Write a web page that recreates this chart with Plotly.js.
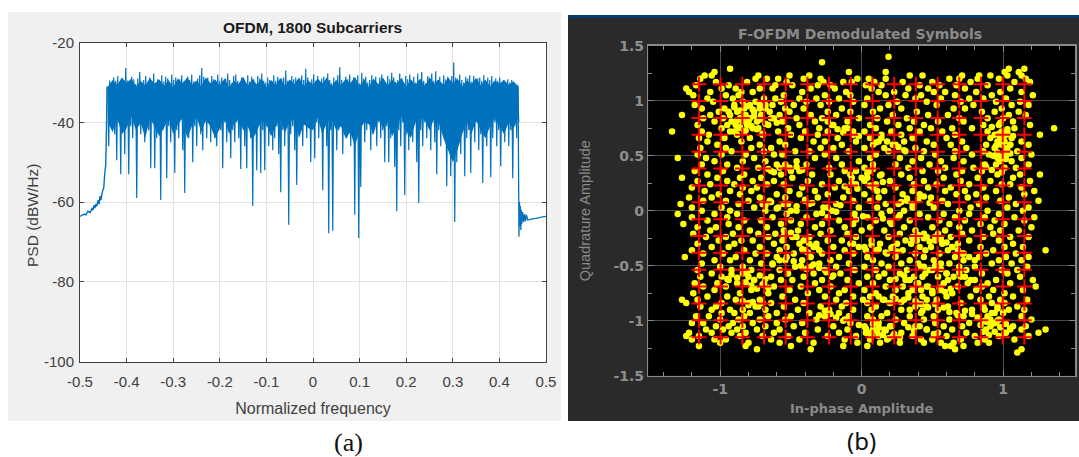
<!DOCTYPE html>
<html><head><meta charset="utf-8">
<script src="https://cdn.plot.ly/plotly-3.0.1.min.js"></script>
<style>html,body{margin:0;padding:0;background:#fff}#chart{width:1079px;height:457px}</style>
</head><body><div id="chart"></div>
<script>
// (a) PSD: skirts read as explicit points, band read as alternating upper / lower excursions
const leftSkirtFreq=[-0.5,-0.496,-0.491,-0.487,-0.483,-0.478,-0.474,-0.472,-0.47,-0.468,-0.466,-0.464,-0.461,-0.459,-0.457,-0.455,-0.453,-0.451,-0.449,-0.447,-0.445,-0.444,-0.443,-0.442];
const leftSkirtPsd=[-63.6,-63.3,-63,-63.2,-62.3,-62.6,-61.5,-62,-60.8,-61.5,-60.5,-61,-59.5,-60.5,-58.5,-59.5,-58,-57,-56.5,-53,-51,-47,-40,-31];
const rightSkirtFreq=[0.44,0.441,0.442,0.443,0.444,0.445,0.446,0.447,0.448,0.45,0.452,0.454,0.456,0.458,0.461,0.465,0.47,0.478,0.486,0.493,0.5];
const rightSkirtPsd=[-31,-50,-68.7,-60,-66,-61,-67,-62,-65.5,-62.5,-65,-63,-64.8,-63.2,-64.5,-64.4,-64.2,-64.1,-63.9,-63.7,-63.6];
const bodyFreq=[-0.44,-0.43,-0.42,-0.41,-0.4,-0.39,-0.38,-0.37,-0.36,-0.35,-0.34,-0.33,-0.32,-0.31,-0.3,-0.29,-0.28,-0.27,-0.26,-0.25,-0.24,-0.23,-0.22,-0.21,-0.2,-0.19,-0.18,-0.17,-0.16,-0.15,-0.14,-0.13,-0.12,-0.11,-0.1,-0.09,-0.08,-0.07,-0.06,-0.05,-0.04,-0.03,-0.02,-0.01,0,0.01,0.02,0.03,0.04,0.05,0.06,0.07,0.08,0.09,0.1,0.11,0.12,0.13,0.14,0.15,0.16,0.17,0.18,0.19,0.2,0.21,0.22,0.23,0.24,0.25,0.26,0.27,0.28,0.29,0.3,0.31,0.32,0.33,0.34,0.35,0.36,0.37,0.38,0.39,0.4,0.41,0.42,0.43,0.44];
const bodyTop=[-31,-29.4,-30.6,-28.8,-30.2,-29,-31,-29.6,-30.8,-28.9,-30.4,-29.2,-30.9,-29.4,-31.2,-29,-30.3,-28.7,-30.6,-29.5,-31,-28.8,-30.2,-29.3,-30.8,-29,-31.3,-29.6,-30.4,-28.6,-30.8,-29.2,-30.5,-29,-31.2,-29.4,-30.6,-28.9,-30.9,-29.3,-30.4,-28.8,-31.1,-29.5,-30.6,-29,-30.3,-28.7,-31,-29.4,-30.8,-29.1,-30.2,-28.6,-30.9,-29.3,-31.2,-29,-30.5,-28.8,-30.7,-29.4,-30.2,-28.9,-31,-29.2,-30.6,-29,-30.9,-28.7,-30.4,-29.3,-30.8,-28.8,-30.2,-29,-31,-29.5,-30.4,-28.9,-30.7,-29.3,-31,-29.6,-30.3,-29.4,-30.6,-29.8,-31.2];
const bodyBottom=[-40,-42.5,-39,-43,-41.5,-38.5,-42,-40,-44,-39,-41,-43.5,-41.5,-38.8,-43,-40.5,-39,-44,-41,-38.5,-42.5,-39.5,-41,-44,-41.5,-39,-43,-40.5,-39,-42,-41,-44.5,-42,-39.5,-40.5,-43.5,-41,-39,-42.5,-40,-39,-44,-40.5,-41.5,-42,-38.8,-43,-40,-39.5,-42,-41,-44,-42.5,-46,-42,-40,-40.5,-43,-39,-41.5,-40,-43.5,-41,-38.5,-42,-44,-40,-39,-39.5,-42,-39,-40,-44,-47,-50,-47,-43,-40,-43,-39.5,-42,-44,-41,-39,-41,-43,-40,-41.5,-39];
const bandStart=-0.4405, bandStep=0.002146;
const psdUpper=[-31,-29.5,-30,-28.8,-29.6,-28.4,-30,-29,-29.4,-26.4,-29.5,-30,-28.6,-29.2,-30.4,-29,-27.4,-30,-29.4,-28.4,
-30.2,-28.8,-29.6,-27.8,-30,-29.2,-30.6,-28.2,-29.8,-28.6,-29,-30.2,-28,-29.4,-28.8,-30.4,-29.2,-28.2,-29.8,-30,
-28.6,-29.4,-28,-29.8,-30.4,-29,-28.2,-26.4,-28.6,-29.6,-28.8,-30,-28.4,-29.2,-30.2,-28,-29.6,-28.8,-30,-29,
-27.8,-29.4,-30.2,-28.4,-28,-29.6,-30,-28.8,-29.2,-30.4,-28.2,-29.8,-28.6,-29.2,-30.4,-28.4,-29,-27.8,-29.6,-30,
-28.8,-29.4,-30,-28.2,-29.6,-28.6,-30.2,-29,-28.8,-27,-29.6,-30,-28.4,-29.2,-28.8,-30.4,-29,-28.2,-29.4,-26.6,
-28.8,-30,-29.2,-28,-29.6,-28.4,-30.2,-29,-28.6,-30,-27.8,-29.4,-30.2,-28.8,-29.6,-28.2,-26.2,-29.4,-30.4,-28.6,
-29.2,-28,-30,-28.8,-29.4,-28.2,-30.2,-27.6,-29,-28.6,-30,-29.4,-28.2,-29.8,-28.6,-30.2,-28.8,-28,-29.6,-30,
-28.4,-29.2,-27.6,-28.8,-30,-29.4,-27.8,-29,-30.2,-28.4,-29.2,-28,-29.8,-28.6,-30,-27.8,-29.4,-27.4,-29.6,-30.2,
-28.4,-29,-27.8,-29.6,-27.2,-29.4,-28.6,-30,-28.2,-29.2,-28.6,-30.2,-28.4,-25,-28.8,-29.6,-28,-29.4,-30,-28.6,
-29,-28.2,-29.8,-28.4,-30,-29,-28.8,-29.6,-28.2,-30,-28.8,-29.4,-28.4,-29.8,-29,-29.6,-28.8,-30,-29.4,-30.4,
-29.2,-30,-29.4,-29.8,-30.2,-30.6];
const psdLower=[-46,-41,-39,-43,-49.5,-40,-53,-42,-48,-40,
-53,-41,-44,-39,-59,-41,-43,-40,-45,-39,
-42,-51.5,-40,-51.5,-44,-39,-59.5,-42,-40,-54,
-41,-45,-39,-52.7,-42,-44,-39,-47,-57.7,-41,
-44,-39,-50,-41,-46,-39,-43,-47,-40,-44,
-39,-45,-41,-44,-46,-39,-42,-51.5,-40,-45,
-39,-49,-42,-45,-40,-44,-51.7,-41,-46,-51.5,
-41,-44,-61,-43,-52,-40,-52.7,-42,-52,-41,
-46,-42,-47,-44,-41,-48,-57.5,-42,-46,-40,
-65.7,-43,-41,-47,-55.7,-42,-40,-46,-39,-44,
-41,-50,-38,-49,-40,-44,-39,-57,-41,-46,
-67.8,-42,-67.2,-40,-47,-42,-39,-48,-41,-44,
-40,-46,-42,-63.2,-41,-69,-56.2,-40,-45,-42,
-40,-47,-43,-41,-46,-40,-44,-42,-50,-41,
-50,-44,-41,-51.2,-62.3,-42,-46,-40,-58.2,-43,
-47,-41,-45,-40,-50,-60.2,-42,-46,-40,-44,
-41,-47,-40,-45,-53,-42,-46,-41,-44,-56,
-46,-53.5,-49,-65,-50,-44,-48,-41,-53.5,-44,
-42,-52.7,-41,-45,-40,-47,-43,-55.2,-42,-46,
-41,-53.8,-44,-40,-46,-42,-51,-41,-45,-40,
-46,-42,-54,-41,-44,-40];
const psdTickVals=[-0.5,-0.4,-0.3,-0.2,-0.1,0,0.1,0.2,0.3,0.4,0.5];
const psdTickText=["-0.5","-0.4","-0.3","-0.2","-0.1","0","0.1","0.2","0.3","0.4","0.5"];
const psdYTickVals=[-100,-80,-60,-40,-20];
const psdYTickText=["-100","-80","-60","-40","-20"];

// (b) constellation
const refLevels=[-1.15,-0.997,-0.843,-0.69,-0.537,-0.383,-0.23,-0.077,0.077,0.23,0.383,0.537,0.69,0.843,0.997,1.15];
const yellowQLevels=[1.40,1.35,1.29,1.26,1.23,1.20,1.17,1.14,1.11,1.08,1.05,1.02,0.99,0.96,0.93,0.90,0.87,0.84,0.81,0.78,0.75,0.72,0.69,0.66,0.63,0.60,0.57,0.54,0.51,0.48,0.45,0.42,0.39,0.36,0.33,0.30,0.27,0.24,0.21,0.18,0.15,0.12,0.09,0.06,0.03,0,-0.03,-0.06,-0.09,-0.12,-0.15,-0.18,-0.21,-0.24,-0.27,-0.30,-0.33,-0.36,-0.39,-0.42,-0.45,-0.48,-0.51,-0.54,-0.57,-0.60,-0.63,-0.66,-0.69,-0.72,-0.75,-0.78,-0.81,-0.84,-0.87,-0.90,-0.93,-0.96,-0.99,-1.02,-1.05,-1.08,-1.11,-1.14,-1.17,-1.20,-1.23,-1.26,-1.29,-1.32];
const yellowIByLevel=[
[0.19],[-0.28],[-0.93,1.04,1.15],
[-1.04,-0.09,1.01,1.11,0.17],
[-1.06,-1.11,-0.73,-0.51,-0.37,0.34,0.43,0.71,0.83,0.91,1.03,1.13],
[-1.14,-0.75,-0.67,-0.59,-0.41,-0.29,-0.03,0.05,0.17,0.62,0.69,0.82,0.97,1.16],
[-1.03,-0.81,-0.53,-0.27,-0.13,-0.07,0.09,0.29,0.5,0.77,1.08,1.19],
[-1.17,-0.94,-0.61,-0.49,-0.31,-0.22,0.03,0.14,0.41,0.55,0.67,0.89],
[-1.24,-0.99,-0.89,-0.72,-0.63,-0.36,-0.19,0.07,0.33,0.47,0.73,1.05],
[-1.22,-1.07,-0.85,-0.77,-0.42,-0.11,0.12,0.23,0.51,0.59,0.81,0.98,1.13],
[-1.19,-0.96,-0.87,-0.55,-0.26,-0.08,0.17,0.31,0.42,0.66,0.92,1.21],
[-1.09,-0.91,-0.69,-0.61,-0.44,-0.32,-0.16,0.04,0.38,0.56,0.76,0.86,1.02],
[-1.05,-0.84,-0.75,-0.57,-0.39,-0.23,-0.06,0.25,0.46,0.7,0.95,1.12],
[-1.18,-0.9,-0.79,-0.68,-0.63,-0.48,-0.29,0.02,0.19,0.53,0.79,1.06,1.18],
[-1.13,-0.97,-0.83,-0.72,-0.54,-0.41,-0.14,0.13,0.28,0.65,0.73,0.99],
[-1.01,-0.88,-0.76,-0.65,-0.51,-0.24,-0.08,0.08,0.39,0.85,0.94,1.11],
[-1.27,-1.07,-0.93,-0.82,-0.71,-0.58,-0.36,-0.18,0.22,0.47,0.61,1.04,1.16],
[-1.12,-0.98,-0.86,-0.79,-0.62,-0.46,-0.28,-0.02,0.11,0.32,0.69,0.89,1.0],
[-1.04,-0.92,-0.84,-0.74,-0.56,-0.33,-0.1,0.18,0.37,0.54,0.72,1.07],
[-1.16,-0.95,-0.89,-0.81,-0.66,-0.44,-0.21,0.06,0.26,0.44,0.86,0.97,1.19],
[-0.99,-0.87,-0.77,-0.73,-0.52,-0.3,-0.12,0.1,0.34,0.49,0.64,0.78,1.08,1.36],
[-1.34,-1.13,-0.93,-0.83,-0.59,-0.4,-0.24,0.02,0.21,0.41,0.57,0.89,0.99],
[-1.08,-0.88,-0.7,-0.5,-0.31,-0.06,0.14,0.28,0.66,0.94,1.02,1.26],
[-1.15,-0.97,-0.79,-0.43,-0.17,0.06,0.36,0.6,0.91,0.98,1.06],
[-1.09,-0.85,-0.58,-0.34,-0.26,-0.04,0.12,0.3,0.46,0.71,0.96,1.01,1.13],
[-1.02,-0.72,-0.54,-0.14,0.08,0.24,0.51,0.63,0.88,0.99,1.05,1.18],
[-1.14,-0.96,-0.78,-0.64,-0.29,-0.2,0.02,0.16,0.38,0.74,0.94,1.03],
[-0.92,-0.69,-0.47,-0.37,-0.09,0.19,0.31,0.44,0.66,0.86,1.1],
[-1.16,-0.99,-0.82,-0.62,-0.56,-0.26,0.1,0.52,0.78,0.9,1.02,1.2],
[-1.3,-1.1,-0.76,-0.33,-0.18,0.06,0.27,0.42,0.65,0.96,1.13],
[-1.04,-0.84,-0.68,-0.46,-0.02,0.36,0.56,0.72,0.98,1.06],
[-1.13,-0.95,-0.6,-0.39,-0.14,0.08,0.24,0.48,0.87,1.18],
[-0.88,-0.73,-0.51,-0.23,0.02,0.33,0.59,0.79,1.01,1.09],
[-1.18,-0.98,-0.64,-0.44,-0.12,0.06,0.43,0.54,0.71,0.85],
[-1.09,-0.83,-0.57,-0.35,-0.22,0.14,0.28,0.67,0.96,1.12,1.26],
[-1.27,-1.02,-0.86,-0.71,-0.49,-0.07,0.04,0.34,0.58,0.82,1.07],
[-1.16,-0.95,-0.77,-0.62,-0.38,-0.16,0.2,0.44,0.7,0.91,1.19],
[-1.07,-0.9,-0.67,-0.55,-0.28,-0.04,0.1,0.37,0.53,0.76,0.99,1.05],
[-1.2,-0.84,-0.74,-0.42,-0.19,0.08,0.24,0.47,0.63,0.86,1.13],
[-1.11,-0.93,-0.78,-0.51,-0.33,-0.09,0.16,0.36,0.59,0.73,0.95,1.22],
[-1.01,-0.86,-0.6,-0.44,-0.24,0.02,0.29,0.41,0.67,0.81,1.15],
[-1.22,-1.06,-0.72,-0.54,-0.31,-0.13,0.12,0.49,0.75,0.88,1.04],
[-1.12,-0.96,-0.8,-0.65,-0.4,-0.06,0.06,0.32,0.57,0.98,1.25],
[-1.28,-0.87,-0.7,-0.52,-0.37,-0.18,0.17,0.26,0.61,0.83,1.09],
[-1.2,-0.99,-0.76,-0.59,-0.27,-0.02,0.11,0.36,0.51,0.77,1.03,1.18],
[-1.13,-0.93,-0.68,-0.46,-0.21,0.2,0.3,0.69,0.89,1.14],
[-1.3,-1.04,-0.88,-0.53,-0.32,-0.05,0.14,0.41,0.58,0.76,0.97],
[-1.2,-0.95,-0.63,-0.39,-0.24,0.04,0.26,0.47,0.66,0.87,1.08,1.22],
[-1.09,-0.83,-0.71,-0.5,-0.16,0.1,0.34,0.55,0.73,0.94,1.15],
[-1.26,-0.94,-0.57,-0.43,-0.28,-0.06,0.21,0.62,0.84,1.01],
[-1.16,-1.03,-0.87,-0.67,-0.33,-0.12,0.06,0.3,0.5,0.69,0.91,1.2],
[-1.07,-0.79,-0.55,-0.45,-0.22,0.0,0.16,0.38,0.59,0.78,0.98,1.11],
[-1.19,-0.91,-0.73,-0.61,-0.29,-0.1,0.27,0.44,0.54,0.71,0.93],
[-1.1,-0.96,-0.66,-0.49,-0.37,-0.04,0.19,0.36,0.46,0.63,0.86,1.05,1.18],
[-1.01,-0.85,-0.77,-0.56,-0.24,-0.14,0.07,0.31,0.39,0.52,0.76,0.97],
[-1.16,-0.9,-0.62,-0.44,-0.32,-0.08,0.13,0.25,0.35,0.57,0.68,1.07],
[-1.06,-0.94,-0.72,-0.53,-0.2,0.02,0.22,0.41,0.49,0.64,0.84,1.01,1.14],
[-1.2,-0.83,-0.58,-0.4,-0.12,0.1,0.29,0.45,0.61,0.93,1.3],
[-1.12,-0.98,-0.75,-0.67,-0.48,-0.28,-0.06,0.18,0.38,0.55,0.71,0.88,1.09],
[-1.25,-0.89,-0.6,-0.36,-0.16,0.04,0.24,0.44,0.66,0.83,1.02,1.18],
[-1.04,-0.93,-0.79,-0.54,-0.42,-0.22,0.08,0.34,0.51,0.72,0.97,1.13],
[-1.13,-0.71,-0.63,-0.3,-0.09,0.14,0.28,0.56,0.62,0.92,1.06],
[-1.0,-0.84,-0.47,-0.36,-0.18,0.02,0.19,0.42,0.69,0.8,1.17],
[-1.16,-0.92,-0.78,-0.58,-0.26,-0.05,0.1,0.32,0.5,0.74,0.99,1.1],
[-1.06,-0.81,-0.52,-0.34,-0.15,0.16,0.27,0.45,0.6,0.85,1.03],
[-1.14,-0.99,-0.64,-0.41,-0.21,0.04,0.12,0.37,0.54,0.7,1.12],
[-0.94,-0.76,-0.57,-0.49,-0.28,-0.1,0.2,0.31,0.61,0.8,0.95,1.21],
[-1.18,-1.02,-0.88,-0.69,-0.33,-0.02,0.08,0.4,0.58,0.75,0.89,1.05],
[-1.12,-0.96,-0.62,-0.43,-0.22,0.17,0.29,0.47,0.68,0.85,1.23],
[-1.04,-0.78,-0.51,-0.3,-0.12,0.02,0.24,0.36,0.56,0.81,0.93,1.14],
[-1.19,-0.86,-0.66,-0.38,-0.16,0.1,0.33,0.5,0.64,1.01],
[-1.09,-0.95,-0.56,-0.26,-0.06,0.06,0.22,0.43,0.6,0.77,0.9,1.07],
[-1.27,-1.16,-0.89,-0.72,-0.47,-0.18,0.01,0.15,0.3,0.53,0.84,0.98,1.17],
[-1.24,-0.99,-0.8,-0.64,-0.41,-0.11,0.04,0.2,0.39,0.7,0.92,1.01],
[-1.14,-1.03,-0.75,-0.55,-0.29,-0.14,0.1,0.46,0.61,0.86,0.96,1.1],
[-1.06,-0.93,-0.84,-0.68,-0.45,-0.23,-0.06,0.07,0.28,0.54,0.78,1.04,1.15],
[-0.99,-0.9,-0.79,-0.6,-0.37,-0.16,0.18,0.42,0.67,0.94,1.0],
[-1.17,-1.08,-0.83,-0.66,-0.5,-0.26,0.04,0.14,0.34,0.51,0.72,0.89,1.13],
[-1.0,-0.87,-0.72,-0.54,-0.32,-0.12,0.08,0.24,0.44,0.62,0.91,0.97,1.2],
[-1.2,-1.12,-0.91,-0.77,-0.6,-0.42,-0.08,0.12,0.3,0.52,0.76,0.94],
[-1.03,-0.94,-0.84,-0.68,-0.48,-0.2,0.02,0.2,0.38,0.58,0.71,1.07,1.16],
[-1.1,-0.98,-0.88,-0.74,-0.58,-0.31,-0.1,0.08,0.16,0.46,0.64,0.88,1.13,1.3],
[-1.22,-1.06,-0.92,-0.82,-0.62,-0.4,-0.16,0.05,0.28,0.54,0.74,1.02,1.25],
[-1.24,-1.15,-0.86,-0.7,-0.52,-0.24,-0.04,0.12,0.22,0.36,0.6,0.8,1.18],
[-1.2,-1.04,-0.96,-0.64,-0.44,-0.12,0.06,0.18,0.42,0.5,0.7,0.87,1.08],
[-1.0,-0.8,-0.58,-0.34,-0.03,0.13,0.27,0.44,0.56,0.65,0.82,0.9],
[-1.15,-0.82,-0.5,-0.13,0.04,0.59,0.63,0.72],
[-0.74,-0.36,1.13,0.66],
[1.1]];
// clumps and chains seen between the rows above
const clumpI=[-0.68,-0.64,-0.6,-0.55,-0.5,-0.46,-0.4,-0.35,-0.28,-0.24,-0.18,-0.15,-0.04,0.01,0.15,0.2,0.27,0.36,0.4,0.44,0.48,0.52,0.56,0.6,0.64,0.68,0.72,0.76,0.8,0.3,0.26,0.22,0.18,0.14,0.1,-0.02,-0.06,-0.1,-0.13,-0.17,-0.2,-0.24,
-0.95,-0.92,-0.88,-0.84,-0.8,-0.76,-0.72,-0.68,-0.63,-0.58,-0.53,-0.48,-0.43,-0.39,-0.34,-0.3,-0.25,-0.2,-0.42,-0.38,-0.34,-0.3,-0.55,-0.5,-0.46,-0.41,-0.37,-0.32,
0.4,0.44,0.48,0.52,0.56,0.6,0.65,0.69,0.73,0.77,0.42,0.46,0.5,0.55,0.59,0.63,0.34,0.38,0.43,0.47,0.52,0.58,0.62,0.68,0.73,0.78,0.82,0.87,0.92,0.96,
0.03,0.07,0.11,0.15,0.19,0.23,0.27,-0.02,0.03,0.08,0.12,0.17,0.21,-0.3,-0.26,-0.22,-0.18,-0.13,-0.09,0.33,0.37,0.41,0.46,0.51,
0.84,0.88,0.91,0.95,0.98,1.02,1.05,0.86,0.9,0.94,0.97,1.01,1.05,0.87,0.92,0.96,1.0,-0.84,-0.8,-0.77,-0.73,-0.7,-0.82,-0.78,-0.74,-0.7,-0.66,
-0.9,-0.86,-0.82,-0.78,-0.74,-0.7,-0.88,-0.84,-0.8,-0.76,-0.72,-0.68,-0.64,-0.6,-0.94,-0.9,-0.86,-0.81,-0.77,-0.72,-0.68,
0.95,0.98,1.02,1.05,0.97,1.0,1.03,1.07,0.93,0.96,0.99,1.02,1.05,0.92,0.98,1.03,0.88,0.92,0.95,0.99,
-0.08,-0.04,0.0,0.04,0.08,0.13,-0.12,-0.07,-0.03,0.02,0.06,0.11,0.15,0.28,0.32,0.36,0.4,0.44,0.48,0.24,0.3,0.34,0.39,0.43,
-0.06,-0.02,0.03,0.07,0.12,0.17,0.21,0.25,0.12,0.16,0.2,0.24,0.28,0.33,0.38,0.42,0.46,-0.66,-0.62,-0.58,-0.54,-0.5,-0.46,-0.42];
const clumpQ=[0.05,0.08,0.02,0.06,0.0,0.04,0.1,0.07,-0.02,0.03,-0.01,0.05,-0.08,-0.05,-0.07,-0.1,-0.04,-0.25,-0.22,-0.25,-0.28,-0.24,-0.26,-0.29,-0.33,-0.36,-0.39,-0.42,-0.45,0.55,0.58,0.6,0.63,0.66,0.62,0.68,0.72,0.75,0.71,0.74,0.78,0.81,
-0.62,-0.58,-0.61,-0.57,-0.6,-0.63,-0.59,-0.62,-0.49,-0.45,-0.42,-0.46,-0.5,-0.53,-0.49,-0.52,-0.56,-0.59,-0.35,-0.38,-0.33,-0.36,-0.23,-0.2,-0.24,-0.27,-0.3,-0.33,
-0.48,-0.51,-0.54,-0.5,-0.53,-0.57,-0.6,-0.56,-0.6,-0.63,-0.72,-0.69,-0.73,-0.7,-0.74,-0.71,-0.9,-0.87,-0.91,-0.88,-0.85,-0.88,-0.92,-0.95,-0.91,-0.94,-0.97,-1.0,-1.03,-1.0,
-1.11,-1.14,-1.1,-1.13,-1.16,-1.12,-1.15,-1.04,-1.07,-1.03,-1.06,-1.09,-1.05,-0.95,-0.91,-0.94,-0.97,-1.0,-0.96,-1.06,-1.09,-1.05,-1.08,-1.12,
-1.04,-1.01,-1.05,-1.02,-1.06,-1.03,-1.07,-1.1,-1.13,-1.1,-1.14,-1.11,-1.08,-0.9,-0.93,-0.89,-0.92,-0.82,-0.86,-0.83,-0.87,-0.84,-0.65,-0.68,-0.71,-0.67,-0.7,
0.72,0.76,0.73,0.77,0.74,0.7,0.82,0.85,0.81,0.86,0.83,0.79,0.84,0.8,0.9,0.94,0.91,0.95,0.92,0.96,0.93,
0.59,0.62,0.56,0.6,0.7,0.66,0.71,0.68,0.5,0.53,0.49,0.47,0.52,0.76,0.8,0.74,0.4,0.37,0.42,0.35,
0.33,0.36,0.3,0.34,0.38,0.32,0.22,0.25,0.2,0.27,0.23,0.18,0.26,0.08,0.11,0.06,0.1,0.13,0.07,-0.62,-0.59,-0.63,-0.66,-0.6,
-0.3,-0.33,-0.36,-0.31,-0.35,-0.38,-0.34,-0.37,-0.78,-0.81,-0.84,-0.8,-0.83,-0.79,-0.82,-0.85,-0.81,0.38,0.35,0.39,0.42,0.36,0.4,0.37];

const traces=[
 {type:'scatter',mode:'lines',xaxis:'x',yaxis:'y',x:bodyFreq.concat(bodyFreq.slice().reverse()),y:bodyTop.concat(bodyBottom.slice().reverse()),fill:'toself',fillcolor:'#0072bd',line:{width:0},hoverinfo:'skip'},
 {type:'scatter',mode:'lines',xaxis:'x',yaxis:'y',x:leftSkirtFreq,y:leftSkirtPsd,line:{color:'#0072bd',width:1.4,simplify:false},hoverinfo:'skip'},
 {type:'scatter',mode:'lines',xaxis:'x',yaxis:'y',x0:bandStart,dx:bandStep,y:psdUpper.flatMap((u,i)=>[u,psdLower[i]]),line:{color:'#0072bd',width:1.2,simplify:false},hoverinfo:'skip'},
 {type:'scatter',mode:'lines',xaxis:'x',yaxis:'y',x:rightSkirtFreq,y:rightSkirtPsd,line:{color:'#0072bd',width:1.3,simplify:false},hoverinfo:'skip'},
 {type:'scatter',mode:'markers',xaxis:'x2',yaxis:'y2',
  x:yellowIByLevel.flatMap(r=>r).concat(clumpI),
  y:yellowIByLevel.flatMap((r,i)=>r.map(()=>yellowQLevels[i])).concat(clumpQ),
  marker:{color:'#ffff00',size:6.5,line:{width:0}},hoverinfo:'skip'},
 {type:'scatter',mode:'markers',xaxis:'x2',yaxis:'y2',
  x:refLevels.flatMap(a=>refLevels.map(()=>a)),
  y:refLevels.flatMap(()=>refLevels),
  marker:{symbol:'cross-thin',size:10.5,line:{color:'#ff0000',width:2}},hoverinfo:'skip'}
];
const W=1079,H=457;
const fx=p=>p/W, fy=p=>1-p/H;
const sans='Liberation Sans';
const dj='DejaVu Sans';
const rect=(x0,y0,x1,y1,c)=>({type:'rect',xref:'paper',yref:'paper',layer:'below',x0:fx(x0),x1:fx(x1),y0:fy(y0),y1:fy(y1),fillcolor:c,line:{width:0}});
const txt=(x,y,t,font,extra)=>Object.assign({xref:'paper',yref:'paper',x:fx(x),y:fy(y),text:t,showarrow:false,xanchor:'center',yanchor:'middle',font},extra||{});
const layout={
 width:W,height:H,margin:{l:0,r:0,t:0,b:0},paper_bgcolor:'#ffffff',plot_bgcolor:'rgba(0,0,0,0)',showlegend:false,
 shapes:[rect(8,12,561,421,'#f0f0f0'),rect(80,42.5,546,361.7,'#ffffff'),
  rect(568,15,1079,421,'#2a2a2a'),rect(568,15,1079,18,'#003a6e'),rect(648.3,45.7,1075,375.7,'#000000')],
 xaxis:{domain:[fx(80),fx(546)],range:[-0.5,0.5],tickmode:'array',tickvals:psdTickVals,ticktext:psdTickText,ticks:'inside',ticklen:4,tickcolor:'#404040',ticklabelstandoff:6,
  showline:true,linecolor:'#404040',linewidth:1,mirror:'ticks',showgrid:true,gridcolor:'#e2e2e2',gridwidth:1,zeroline:false,
  tickfont:{family:sans,size:15,color:'#404040'},title:{text:'Normalized frequency',font:{family:sans,size:16,color:'#404040'},standoff:14}},
 yaxis:{domain:[fy(361.7),fy(42.5)],range:[-100,-20],tickmode:'array',tickvals:psdYTickVals,ticktext:psdYTickText,ticks:'inside',ticklen:4,tickcolor:'#404040',ticklabelstandoff:2,
  showline:true,linecolor:'#404040',linewidth:1,mirror:'ticks',showgrid:true,gridcolor:'#e2e2e2',gridwidth:1,zeroline:false,
  tickfont:{family:sans,size:15,color:'#404040'}},
 xaxis2:{domain:[fx(648.3),fx(1075)],range:[-1.508,1.508],anchor:'y2',tickmode:'array',tickvals:[-1,0,1],ticktext:['-1','0','1'],ticks:'inside',ticklen:6,tickcolor:'#8a8a8a',
  minor:{tickmode:'array',tickvals:[-1.4,-1.2,-0.8,-0.6,-0.4,-0.2,0.2,0.4,0.6,0.8,1.2,1.4],ticks:'inside',ticklen:4,tickcolor:'#8a8a8a',showgrid:false},
  showline:true,linecolor:'#8a8a8a',linewidth:1.5,mirror:'ticks',showgrid:true,gridcolor:'#4a4a4a',gridwidth:1,zeroline:false,
  tickfont:{family:dj,size:14,color:'#8f8f8f',weight:'bold'},title:{text:'In-phase Amplitude',font:{family:dj,size:13,color:'#8a8a8a',weight:'bold'},standoff:8}},
 yaxis2:{domain:[fy(375.7),fy(45.7)],range:[-1.5,1.5],anchor:'x2',tickmode:'array',tickvals:[-1.5,-1,-0.5,0,0.5,1,1.5],ticktext:['-1.5','-1','-0.5','0','0.5','1','1.5'],ticks:'inside',ticklen:6,tickcolor:'#8a8a8a',
  minor:{tickmode:'array',tickvals:[-1.25,-0.75,-0.25,0.25,0.75,1.25],ticks:'inside',ticklen:4,tickcolor:'#8a8a8a',showgrid:false},
  showline:true,linecolor:'#8a8a8a',linewidth:1.5,mirror:'ticks',showgrid:true,gridcolor:'#4a4a4a',gridwidth:1,zeroline:false,
  tickfont:{family:dj,size:14,color:'#8f8f8f',weight:'bold'},title:{text:'Quadrature Amplitude',font:{family:sans,size:14.5,color:'#8a8a8a'},standoff:19}},
 annotations:[
  txt(312,27,'OFDM, 1800 Subcarriers',{family:sans,size:15.5,color:'#1a1a1a',weight:'bold'}),
  txt(32,216,'PSD (dBW/Hz)',{family:sans,size:15.5,color:'#404040'},{textangle:-90}),
  txt(860,34,'F-OFDM Demodulated Symbols',{family:dj,size:14,color:'#8a8a8a',weight:'bold'}),
  txt(348,442,'(a)',{family:'Liberation Serif',size:26,color:'#111111'}),
  txt(861,440,'(b)',{family:'Noto Sans',size:24,color:'#111111'})
 ]
};
Plotly.newPlot('chart',traces,layout,{displayModeBar:false,staticPlot:true});
</script></body></html>
